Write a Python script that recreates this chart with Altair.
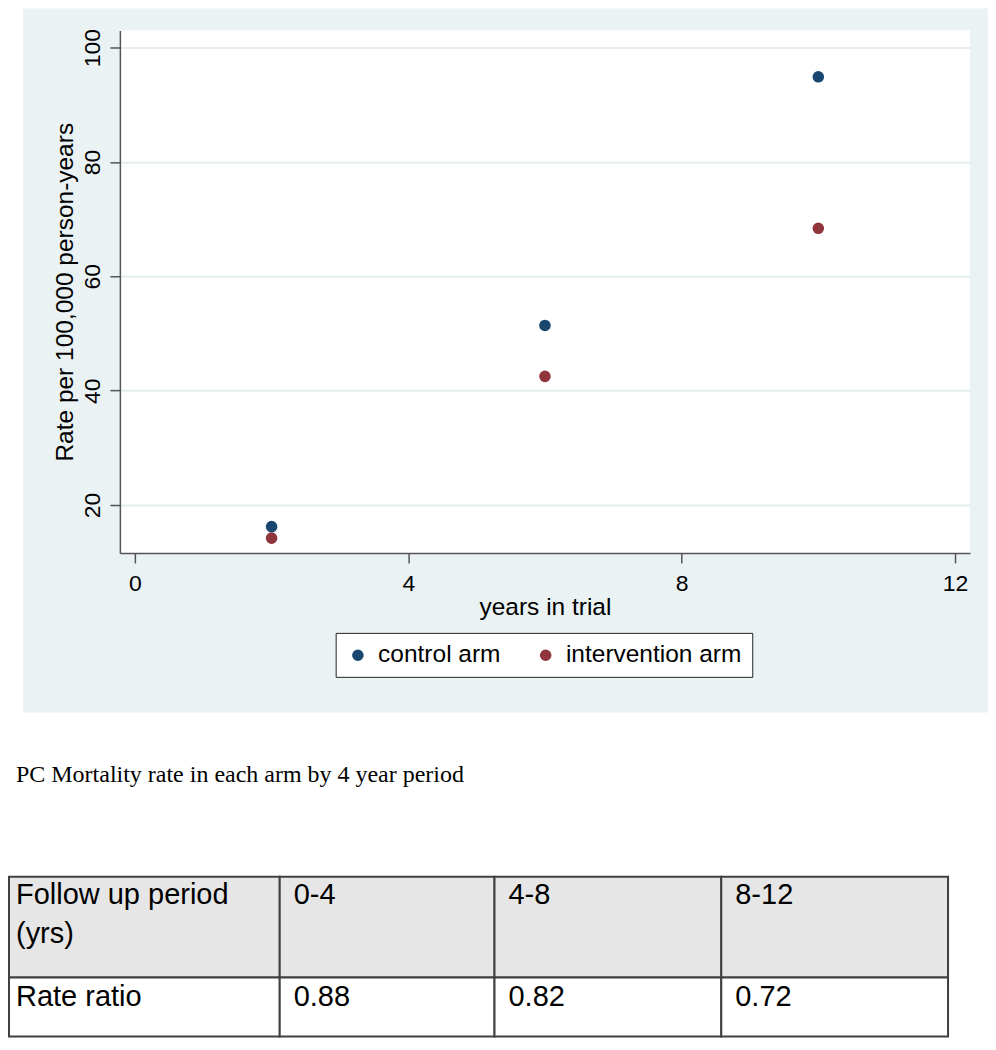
import altair as alt
import pandas as pd

# ---------------- data ----------------
years = [2, 6, 10]
control_rate = [16.2, 51.4, 94.9]
intervention_rate = [14.2, 42.5, 68.4]
arms = ["control arm", "intervention arm"]
arm_colors = ["#1a476f", "#90353b"]
x_ticks = [0, 4, 8, 12]
y_ticks = [20, 40, 60, 80, 100]
x_title = "years in trial"
y_title = "Rate per 100,000 person-years"
caption_text = "PC Mortality rate in each arm by 4 year period"
table_header = ["Follow up period\n(yrs)", "0-4", "4-8", "8-12"]
table_body = ["Rate ratio", "0.88", "0.82", "0.72"]

# ---------------- layout / style ----------------
FONT = "Liberation Sans"
SERIF = "Liberation Serif"
BG = "#eaf2f3"
PW, PH = 851, 523
LEFT, RIGHT = -111, 869          # page extents relative to plot origin
COL_W = [271, 215, 227, 227]
TEXT_PAD = [7, 14, 14, 14]
TBL_TOP, HEAD_H, BODY_H = 164, 101, 59
BH = 324

AX = dict(domainColor="#555555", domainWidth=1.5, tickColor="#555555",
          tickWidth=1.5, tickSize=10, labelFont=FONT, labelFontSize=23,
          labelColor="black", titleFont=FONT, titleFontSize=24.5,
          titleColor="black", titleFontWeight="normal",
          gridColor="#e4edef", gridWidth=2, zindex=1)

pts = pd.DataFrame({
    "year": years * 2,
    "rate": control_rate + intervention_rate,
    "arm": [arms[0]] * len(years) + [arms[1]] * len(years),
})

one = alt.Data(values=[{}])

bg_blue = alt.Chart(one).mark_rect(color=BG).encode(
    x=alt.value(-97), x2=alt.value(RIGHT), y=alt.value(-22), y2=alt.value(683))
bg_strip = alt.Chart(one).mark_rect(color="white").encode(
    x=alt.value(LEFT), x2=alt.value(-97), y=alt.value(-22), y2=alt.value(683))
plot_white = alt.Chart(one).mark_rect(color="white").encode(
    x=alt.value(0), x2=alt.value(PW), y=alt.value(0), y2=alt.value(PH))

points = alt.Chart(pts).mark_circle(size=135, opacity=1).encode(
    x=alt.X("year:Q",
            scale=alt.Scale(domain=[-0.22, 12.22], nice=False, zero=False),
            axis=alt.Axis(values=x_ticks, title=x_title, grid=False,
                          labelPadding=10, titleY=62, titleBaseline="alphabetic",
                          **AX)),
    y=alt.Y("rate:Q",
            scale=alt.Scale(domain=[11.6, 103], nice=False, zero=False),
            axis=alt.Axis(values=y_ticks, title=y_title, grid=True,
                          labelAngle=270, labelAlign="center",
                          labelBaseline="alphabetic", labelPadding=10,
                          titleAngle=270, titleX=-47, titleY=PH / 2,
                          titleAlign="center", titleBaseline="alphabetic",
                          **AX)),
    color=alt.Color("arm:N",
                    scale=alt.Scale(domain=arms, range=arm_colors),
                    legend=alt.Legend(title=None, orient="none",
                                      legendX=216, legendY=603,
                                      direction="horizontal",
                                      fillColor="white", strokeColor="#222222",
                                      padding=10, labelFont=FONT,
                                      labelFontSize=24.5, labelColor="black",
                                      labelLimit=400,
                                      symbolType="circle", symbolSize=135,
                                      symbolStrokeWidth=0, symbolOpacity=1,
                                      labelOffset=8, columnPadding=32)),
)

top = alt.layer(bg_blue, bg_strip, plot_white, points).properties(width=PW, height=PH)

# ---------------- table ----------------
rows = []
edges = [0]
for w in COL_W:
    edges.append(edges[-1] + w)
for r, (vals, kind) in enumerate([(table_header, "header"), (table_body, "body")]):
    y0 = TBL_TOP if r == 0 else TBL_TOP + HEAD_H
    y1 = TBL_TOP + HEAD_H if r == 0 else TBL_TOP + HEAD_H + BODY_H
    base = y0 + (27 if r == 0 else 28)
    for c, v in enumerate(vals):
        rows.append({"x0": edges[c], "x1": edges[c + 1], "y0": y0, "y1": y1,
                     "kind": kind, "text": v,
                     "tx": edges[c] + TEXT_PAD[c], "ty": base})
cells = pd.DataFrame(rows)

TW = RIGHT - LEFT
xs = alt.Scale(domain=[0, TW], range=[LEFT, RIGHT], nice=False, zero=False)
ys = alt.Scale(domain=[0, BH], range=[0, BH], nice=False, zero=False)

bottom_bg = alt.Chart(one).mark_rect(color="white").encode(
    x=alt.value(LEFT), x2=alt.value(RIGHT), y=alt.value(0), y2=alt.value(BH))

caption = alt.Chart(alt.Data(values=[{"t": caption_text}])).mark_text(
    align="left", baseline="alphabetic", font=SERIF, fontSize=24, color="black"
).encode(x=alt.value(LEFT + 7), y=alt.value(69), text="t:N")

cell_rects = alt.Chart(cells).mark_rect(stroke="#404040", strokeWidth=2).encode(
    x=alt.X("x0:Q", scale=xs, axis=None), x2="x1:Q",
    y=alt.Y("y0:Q", scale=ys, axis=None), y2="y1:Q",
    fill=alt.Fill("kind:N", scale=alt.Scale(domain=["header", "body"],
                                            range=["#e6e6e6", "#ffffff"]),
                  legend=None),
)

cell_text = alt.Chart(cells).mark_text(
    align="left", baseline="alphabetic", font=FONT, fontSize=29,
    lineBreak="\n", lineHeight=39, color="black"
).encode(
    x=alt.X("tx:Q", scale=xs, axis=None),
    y=alt.Y("ty:Q", scale=ys, axis=None),
    text="text:N",
)

bottom = alt.layer(bottom_bg, caption, cell_rects, cell_text).properties(width=PW, height=BH)

chart = alt.vconcat(top, bottom, spacing=0).properties(
    padding=0, background="white"
).configure_view(strokeWidth=0)

chart.save("out.html", embed_options={"renderer": "svg", "actions": False})
